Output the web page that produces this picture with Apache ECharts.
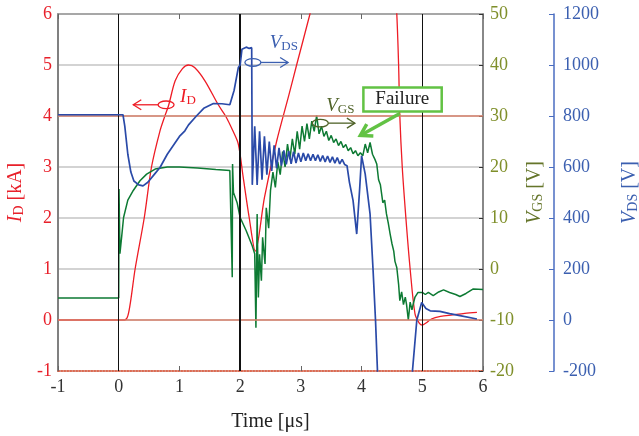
<!DOCTYPE html>
<html>
<head>
<meta charset="utf-8">
<script src="https://cdn.jsdelivr.net/npm/echarts@6/dist/echarts.min.js"></script>
<style>
html,body{margin:0;padding:0;background:#fff;}
#main{width:639px;height:436px;}
</style>
</head>
<body>
<div id="main"></div>
<script>
// ---- data (time in µs) ----
var xTicks = [-1, 0, 1, 2, 3, 4, 5, 6];
var idTime = [-1, 0.1, 0.15, 0.2, 0.27, 0.42, 0.54, 0.68, 0.76, 0.82, 0.93, 1.05, 1.15, 1.25, 1.42, 1.64, 1.76, 1.88, 1.97, 2.05, 2.15, 2.25, 2.4, 2.6, 2.8, 2.93, 3.15, 3.25, 4.55, 4.58, 4.61, 4.63, 4.67, 4.73, 4.8, 4.88, 4.95, 5.0, 5.06, 5.15, 5.3, 5.5, 5.7, 5.9];
var idValues = [0, 0, 0.08, 0.4, 1.0, 2.0, 3.0, 3.71, 4.0, 4.2, 4.69, 4.93, 5.0, 4.95, 4.69, 4.22, 4.0, 3.71, 3.45, 2.8, 2.0, 1.35, 2.4, 3.5, 4.4, 5.0, 6.0, 6.5, 6.5, 6.0, 5.0, 4.0, 3.0, 2.0, 1.0, 0.12, -0.06, -0.1, -0.06, 0.02, 0.07, 0.1, 0.13, 0.15];

var vdsTime = [-1, 0.07, 0.1, 0.15, 0.2, 0.25, 0.33, 0.4, 0.48, 0.6, 0.68, 0.8, 1.0, 1.09, 1.15, 1.28, 1.4, 1.56, 1.7, 1.83, 1.9, 1.97, 2.0, 2.03, 2.1, 2.15, 2.19, 2.2,
  2.24, 2.28, 2.32, 2.36, 2.40, 2.44, 2.48, 2.52, 2.56, 2.60, 2.64, 2.68, 2.72, 2.76, 2.80, 2.84, 2.88, 2.92, 2.96, 3.00,
  3.04, 3.08, 3.12, 3.16, 3.20, 3.24, 3.28, 3.32, 3.36, 3.40, 3.44, 3.48, 3.52, 3.56, 3.60, 3.64, 3.68, 3.72, 3.76,
  3.80, 3.86, 3.92, 3.97, 4.00, 4.06, 4.14, 4.19, 4.23, 4.27, 4.82, 4.91, 4.99, 5.06, 5.13, 5.29, 5.45, 5.62, 5.9];
var vdsValues = [805, 805, 760, 650, 580, 545, 530, 526, 540, 575, 598, 650, 720, 742, 765, 800, 830, 849, 848, 844, 900, 990, 1000, 1062, 1070, 1065, 1068, 530,
  760, 530, 740, 550, 720, 570, 700, 585, 685, 595, 675, 605, 665, 610, 662, 612, 660, 615, 655, 620,
  655, 625, 652, 625, 650, 625, 648, 622, 645, 620, 643, 618, 640, 615, 637, 612, 630, 610, 605,
  540, 468, 337, 520, 644, 572, 415, 193, -3, -250, -250, 0, 69, 45, 36, 34, 25, 17, 4];

var vgsTime = [-1, 0, 0.005, 0.02, 0.05, 0.08, 0.15, 0.24, 0.35, 0.46, 0.6, 0.8, 1.0, 1.3, 1.6, 1.83, 1.86, 1.87, 1.875, 1.89, 1.95, 2.0, 2.1, 2.2, 2.24,
  2.26, 2.28, 2.30, 2.32, 2.35, 2.37, 2.41, 2.43, 2.47, 2.50,
  2.54, 2.58, 2.62, 2.66, 2.70, 2.74, 2.78, 2.82, 2.86, 2.90, 2.94, 2.98, 3.02, 3.06, 3.10, 3.14, 3.18, 3.22, 3.26, 3.30,
  3.34, 3.38, 3.42, 3.46, 3.50, 3.54, 3.58, 3.62, 3.66, 3.70, 3.74, 3.78, 3.82, 3.86, 3.90, 3.94, 3.98, 4.02, 4.06, 4.10, 4.14, 4.18,
  4.22, 4.25, 4.28, 4.31, 4.35, 4.38, 4.41, 4.44, 4.47, 4.50, 4.53, 4.55, 4.58, 4.61, 4.63, 4.66, 4.69, 4.72, 4.74, 4.77, 4.80, 4.83, 4.85, 4.88, 4.93,
  5.0, 5.05, 5.1, 5.18, 5.27, 5.35, 5.45, 5.55, 5.62, 5.72, 5.84, 6.0];
var vgsValues = [-5.7, -5.7, 15.7, 3.0, 6.5, 10.1, 13.5, 15.4, 17.3, 18.6, 19.6, 20.0, 20.0, 19.8, 19.5, 19.3, 19.0, -1.6, 20.6, 15.0, 13.0, 10.1, 7.5, 4.5, 3.0,
  -11.5, 10.8, -5.6, 2.9, -2.3, 6.2, 1.0, 12.0, 8.0, 15.4,
  19, 16, 21, 18.5, 23, 20, 24.5, 21.5, 25.5, 22.5, 27, 23.5, 28, 25, 28.5, 25.5, 29, 27, 30.1, 26.5,
  28, 26, 27, 25.2, 26.2, 24.8, 25.5, 24.2, 25, 23.8, 24.4, 23.2, 23.8, 22.6, 23.2, 22.2, 22.8, 22.2, 24.5, 22.8, 24.8, 22.5,
  21.5, 20.6, 17.5, 16.5, 13, 13.5, 10.8, 9, 6.9, 5, 3.5, 1.5, 0.3, -3, -6.2, -4.5, -7, -5.5, -6.9, -10, -6.5, -8, -6.9, -5.5, -4.6,
  -4.6, -5, -4.6, -5.2, -4.5, -4.1, -4.6, -5, -5.4, -4.8, -3.9, -4.0];

function pairs(t, v) { return t.map(function (x, i) { return [x, v[i]]; }); }

var FONT = 'Liberation Serif';
var RED = '#ee1c25', BLUE = '#2a4aa8', GREEN = '#0d7a33';
var RED_TXT = '#e8202a', OLIVE_TXT = '#7f8f2a', OLIVE_NAME = '#65752a', BLUE_TXT = '#3b5fb0', ANN_GREEN = '#4f6228';
var TICK_FS = 18, NAME_FS = 20, SUB_FS = 14;

var chart = echarts.init(document.getElementById('main'), null, { renderer: 'canvas' });

function plain(v) { return String(v); }
function nameStyle(color) {
  return { fontFamily: FONT, fontSize: NAME_FS, color: color,
    rich: { i: { fontFamily: FONT, fontStyle: 'italic', fontSize: NAME_FS, color: color },
            s: { fontFamily: FONT, fontSize: SUB_FS, color: color, padding: [7, 0, 0, 0] } } };
}

var option = {
  animation: false,
  backgroundColor: '#fff',
  grid: { left: 58, right: 156, top: 14, bottom: 65, containLabel: false, outerBoundsMode: 'none' },
  xAxis: [{
    type: 'value', min: -1, max: 6, interval: 1, position: 'bottom',
    name: 'Time [μs]', nameLocation: 'middle', nameGap: 41,
    nameTextStyle: { fontFamily: FONT, fontSize: NAME_FS, color: '#222' },
    axisLine: { show: true, onZero: false, lineStyle: { color: '#e04a2a', width: 1.5, type: 'dotted' } },
    axisTick: { show: true, inside: true, length: 5, lineStyle: { color: '#666' } },
    axisLabel: { fontFamily: FONT, fontSize: TICK_FS, color: '#333', margin: 7, formatter: plain },
    splitLine: { show: false }
  }, {
    type: 'value', min: -1, max: 6, interval: 1, position: 'top',
    axisLine: { show: true, onZero: false, lineStyle: { color: '#999', width: 1.5 } },
    axisTick: { show: true, inside: true, length: 5, lineStyle: { color: '#666' } },
    axisLabel: { show: false }, splitLine: { show: false }
  }],
  yAxis: [{
    type: 'value', min: -1, max: 6, interval: 1, position: 'left',
    name: '{i|I}{s|D} [kA]', nameLocation: 'middle', nameGap: 30, nameRotate: 90,
    nameTextStyle: nameStyle(RED_TXT),
    axisLine: { show: true, onZero: false, lineStyle: { color: '#808080', width: 2 } },
    axisTick: { show: false },
    axisLabel: { fontFamily: FONT, fontSize: TICK_FS, color: RED_TXT, margin: 6, formatter: plain },
    splitLine: { show: true, lineStyle: { color: '#c4c4c4', width: 1.5 } }
  }, {
    type: 'value', min: -20, max: 50, interval: 10, position: 'right',
    name: '{i|V}{s|GS} [V]', nameLocation: 'middle', nameGap: 34, nameRotate: 90,
    nameTextStyle: nameStyle(OLIVE_NAME),
    axisLine: { show: true, onZero: false, lineStyle: { color: '#888', width: 2 } },
    axisTick: { show: true, inside: true, length: 4, lineStyle: { color: '#333' } },
    axisLabel: { fontFamily: FONT, fontSize: TICK_FS, color: OLIVE_TXT, margin: 7, formatter: plain },
    splitLine: { show: false }
  }, {
    type: 'value', min: -200, max: 1200, interval: 200, position: 'right', offset: 71,
    name: '{i|V}{s|DS} [V]', nameLocation: 'middle', nameGap: 65, nameRotate: 90,
    nameTextStyle: nameStyle(BLUE_TXT),
    axisLine: { show: true, onZero: false, lineStyle: { color: '#4a6cc0', width: 1.5 } },
    axisTick: { show: true, inside: true, length: 5, lineStyle: { color: '#4a6cc0' } },
    axisLabel: { fontFamily: FONT, fontSize: TICK_FS, color: BLUE_TXT, margin: 9, formatter: plain },
    splitLine: { show: false }
  }],
  series: [{
    name: 'ref', type: 'line', xAxisIndex: 0, yAxisIndex: 0, data: [], z: 1, silent: true,
    markLine: {
      silent: true, symbol: ['none', 'none'], label: { show: false }, animation: false,
      data: [
        { yAxis: 0, lineStyle: { color: '#d9826c', width: 1.5, type: 'solid' } },
        { yAxis: 4, lineStyle: { color: '#d9826c', width: 1.5, type: 'solid' } },
        { xAxis: 0, lineStyle: { color: '#111', width: 1, type: 'solid' } },
        { xAxis: 2, lineStyle: { color: '#111', width: 2, type: 'solid' } },
        { xAxis: 5, lineStyle: { color: '#111', width: 1, type: 'solid' } }
      ]
    }
  }, {
    name: 'ID', type: 'line', xAxisIndex: 0, yAxisIndex: 0, data: pairs(idTime, idValues),
    showSymbol: false, smooth: 0.3, lineStyle: { color: RED, width: 1.3 }, z: 3, clip: true
  }, {
    name: 'VGS', type: 'line', xAxisIndex: 0, yAxisIndex: 1, data: pairs(vgsTime, vgsValues),
    showSymbol: false, lineStyle: { color: GREEN, width: 1.5 }, z: 4, clip: true
  }, {
    name: 'VDS', type: 'line', xAxisIndex: 0, yAxisIndex: 2, data: pairs(vdsTime, vdsValues),
    showSymbol: false, lineStyle: { color: BLUE, width: 1.7 }, z: 5, clip: true
  }]
};
chart.setOption(option);

// ---- annotations positioned from data coordinates ----
function P(x, y) { return chart.convertToPixel({ xAxisIndex: 0, yAxisIndex: 0 }, [x, y]); }
function sub(label, main, color, x, y) {
  var p = P(x, y);
  return { type: 'text', x: p[0], y: p[1], z: 20, style: {
    text: '{i|' + main + '}{s|' + label + '}', fill: color, align: 'center', verticalAlign: 'middle',
    rich: { i: { fontFamily: FONT, fontStyle: 'italic', fontSize: 19, fill: color },
            s: { fontFamily: FONT, fontSize: 13, fill: color, padding: [7, 0, 0, 0] } } } };
}
function ell(x, y, color) {
  var p = P(x, y);
  return { type: 'ellipse', z: 20, shape: { cx: p[0], cy: p[1], rx: 8, ry: 3.8 },
    style: { fill: 'none', stroke: color, lineWidth: 1.3 } };
}
function arrow(x0, x1, y, color) {
  var a = P(x0, y), b = P(x1, y);
  var d = b[0] > a[0] ? -1 : 1;
  return [{ type: 'line', z: 20, shape: { x1: a[0], y1: a[1], x2: b[0], y2: b[1] }, style: { stroke: color, lineWidth: 1.3 } },
          { type: 'polyline', z: 20, shape: { points: [[b[0] + d * 8, b[1] - 5], [b[0], b[1]], [b[0] + d * 8, b[1] + 5]] },
            style: { stroke: color, fill: 'none', lineWidth: 1.3 } }];
}
var g = [];
g.push(ell(0.78, 4.22, RED));
g = g.concat(arrow(0.65, 0.24, 4.22, RED));
g.push(sub('D', 'I', RED, 1.14, 4.38));
g.push(ell(2.21, 5.05, BLUE_TXT));
g = g.concat(arrow(2.34, 2.79, 5.05, BLUE_TXT));
g.push(sub('DS', 'V', BLUE_TXT, 2.72, 5.43));
g.push(ell(3.32, 3.86, ANN_GREEN));
g = g.concat(arrow(3.45, 3.89, 3.86, ANN_GREEN));
g.push(sub('GS', 'V', ANN_GREEN, 3.65, 4.2));
// Failure callout
var b0 = P(4.03, 4.56), b1 = P(5.32, 4.09);
g.push({ type: 'rect', z: 21, shape: { x: b0[0], y: b0[1], width: b1[0] - b0[0], height: b1[1] - b0[1] },
  style: { fill: '#fff', stroke: '#62c244', lineWidth: 2.5 } });
var bc = P(4.67, 4.33);
g.push({ type: 'text', z: 22, x: bc[0], y: bc[1], style: { text: 'Failure', fontFamily: FONT, fontSize: 19, fill: '#222', align: 'center', verticalAlign: 'middle' } });
var f0 = P(4.63, 4.05), f1 = P(3.98, 3.62);
var ang = Math.atan2(f1[1] - f0[1], f1[0] - f0[0]);
function rot(len, da) { return [f1[0] - len * Math.cos(ang + da), f1[1] - len * Math.sin(ang + da)]; }
g.push({ type: 'line', z: 21, shape: { x1: f0[0], y1: f0[1], x2: f1[0] - 2 * Math.cos(ang), y2: f1[1] - 2 * Math.sin(ang) },
  style: { stroke: '#62c244', lineWidth: 3.5 } });
g.push({ type: 'polyline', z: 21, shape: { points: [rot(13, 0.55), f1, rot(13, -0.55)] },
  style: { stroke: '#62c244', fill: 'none', lineWidth: 3.5, lineJoin: 'miter' } });
chart.setOption({ graphic: g });
</script>
</body>
</html>
